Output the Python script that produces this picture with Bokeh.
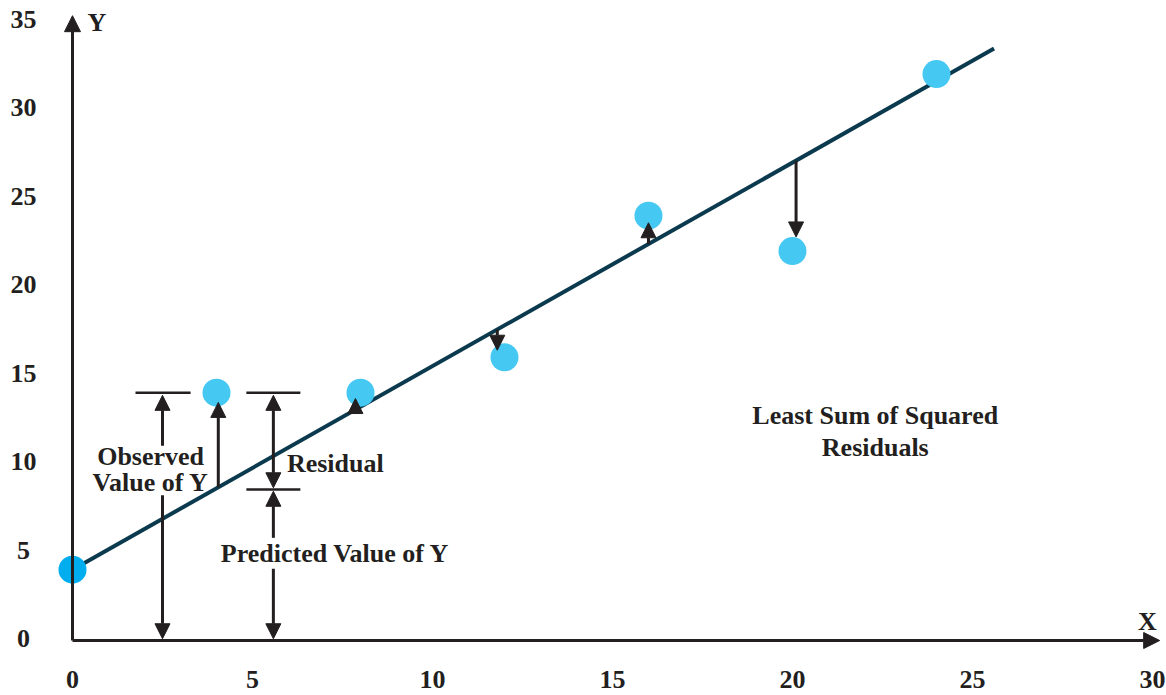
from bokeh.plotting import figure
from bokeh.models import Range1d, Arrow, NormalHead
from bokeh.core.properties import value
from bokeh.embed import file_html
from bokeh.resources import INLINE

# ---- data ----
x_obs = [0, 4, 8, 12, 16, 20, 24]
y_obs = [4, 14, 14, 16, 24, 22, 32]
point_colors = ["#00AEEF", "#45C8F2", "#45C8F2", "#45C8F2", "#45C8F2", "#45C8F2", "#45C8F2"]
fit_intercept = 4.0
fit_slope = 1.15
fit_x = [0.0, 25.6]

x_ticks = [0, 5, 10, 15, 20, 25, 30]
y_ticks = [0, 5, 10, 15, 20, 25, 30, 35]

# residual arrows (x position, from fitted line towards observed)
res_x = [4.05, 7.86, 11.8, 16.0, 20.1]
res_start = [8.66, 13.04, 17.57, 22.4, 27.1]
res_end = [13.45, 13.67, 16.4, 23.6, 22.8]

# annotation values
obs_arrow_x = 2.5
resid_arrow_x = 5.58
observed_y = 14.0
predicted_y = 8.53

INK = "#231F20"
LINE = "#0B3A4E"
FONT = "Liberation Serif"

p = figure(width=1166, height=695, x_range=Range1d(-2.0, 30.39), y_range=Range1d(-3.107, 36.158),
           x_axis_type=None, y_axis_type=None, toolbar_location=None, output_backend="svg",
           min_border=0, outline_line_color=None, background_fill_color="white")
p.grid.visible = False

# axes drawn as arrows
p.add_layout(Arrow(x_start=0, y_start=0, x_end=0, y_end=35.3, line_width=3, line_color=INK,
                   end=NormalHead(size=16, fill_color=INK, line_color=INK, line_width=1)))
p.add_layout(Arrow(x_start=0, y_start=0, x_end=30.2, y_end=0, line_width=3, line_color=INK,
                   end=NormalHead(size=16, fill_color=INK, line_color=INK, line_width=1)))

# tick labels
p.text(x=x_ticks, y=[-2.2] * len(x_ticks), text=[str(t) for t in x_ticks], text_font=value(FONT),
       text_font_style="bold", text_font_size="26px", text_align="center", text_baseline="middle", text_color=INK)
p.text(x=[-1.36] * len(y_ticks), y=[t + 0.1 for t in y_ticks], text=[str(t) for t in y_ticks], text_font=value(FONT),
       text_font_style="bold", text_font_size="26px", text_align="center", text_baseline="middle", text_color=INK)
p.text(x=[0.42, 29.6], y=[34.9, 1.1], text=["Y", "X"], text_font=value(FONT), text_font_style="bold",
       text_font_size="26px", text_align="left", text_baseline="middle", text_color=INK)

# fitted line
p.line(x=fit_x, y=[fit_intercept + fit_slope * v for v in fit_x], line_width=4, line_color=LINE)

# residual arrows
for xr, ys, ye in zip(res_x, res_start, res_end):
    p.add_layout(Arrow(x_start=xr, y_start=ys, x_end=xr, y_end=ye, line_width=3, line_color=INK,
                       end=NormalHead(size=15, fill_color=INK, line_color=INK, line_width=1)))

# bars for observed/predicted levels
p.segment(x0=[1.75, 4.83, 4.83], y0=[observed_y, observed_y, predicted_y],
          x1=[3.28, 6.33, 6.33], y1=[observed_y, observed_y, predicted_y], line_width=2.5, line_color=INK)

def arr(x, y0, y1):
    p.add_layout(Arrow(x_start=x, y_start=y0, x_end=x, y_end=y1, line_width=3, line_color=INK,
                       end=NormalHead(size=15, fill_color=INK, line_color=INK, line_width=1)))

# observed value arrow (split around label)
arr(obs_arrow_x, 11.0, observed_y - 0.15)
arr(obs_arrow_x, 8.2, 0.1)
# residual double arrow
arr(resid_arrow_x, (observed_y + predicted_y) / 2, observed_y - 0.15)
arr(resid_arrow_x, (observed_y + predicted_y) / 2, predicted_y + 0.1)
# predicted value arrow
arr(resid_arrow_x, 5.8, predicted_y - 0.1)
arr(resid_arrow_x, 4.05, 0.1)

# points
p.scatter(x=x_obs, y=y_obs, size=28, fill_color=point_colors, line_color=None)

# annotation texts
p.text(x=[2.17, 2.17, 7.3, 7.3, 22.3, 22.3],
       y=[10.4, 8.95, 10.0, 4.9, 12.7, 10.9],
       text=["Observed", "Value of Y", "Residual", "Predicted Value of Y", "Least Sum of Squared", "Residuals"],
       text_font=value(FONT), text_font_style="bold", text_font_size="26px", text_align="center",
       text_baseline="middle", text_color=INK)

open("out.html", "w").write(file_html(p, INLINE))
